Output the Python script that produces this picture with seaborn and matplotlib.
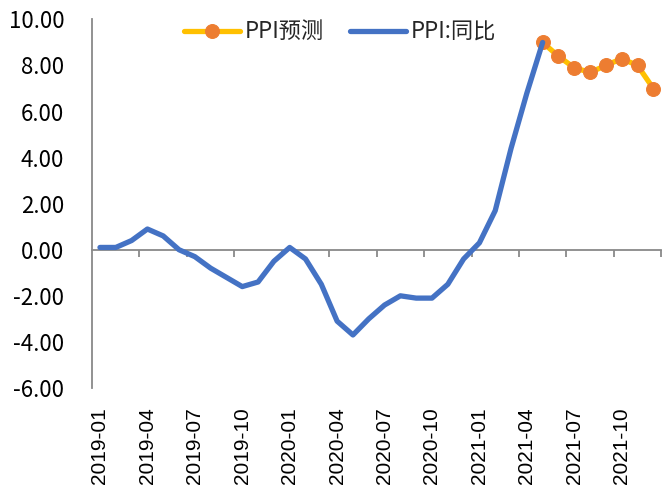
import matplotlib
matplotlib.use("Agg")
import matplotlib.pyplot as plt
import seaborn as sns
import pandas as pd

# monthly categories on the x axis
months = [f"{y}-{m:02d}" for y in (2019, 2020, 2021) for m in range(1, 13)]

# PPI year-on-year, actual (2019-01 .. 2021-05)
ppi_yoy = [0.1, 0.1, 0.4, 0.9, 0.6, 0.0, -0.3, -0.8, -1.2, -1.6, -1.4, -0.5,
           0.1, -0.4, -1.5, -3.1, -3.7, -3.0, -2.4, -2.0, -2.1, -2.1, -1.5, -0.4,
           0.3, 1.7, 4.4, 6.8, 9.0]

# PPI forecast (2021-05 .. 2021-12)
forecast_months = ["2021-05", "2021-06", "2021-07", "2021-08",
                   "2021-09", "2021-10", "2021-11", "2021-12"]
ppi_forecast = [9.0, 8.4, 7.9, 7.7, 8.0, 8.3, 8.0, 7.0]

y_ticks = [-6, -4, -2, 0, 2, 4, 6, 8, 10]

sns.set_theme(style="white")
plt.rcParams['font.family'] = ['Noto Sans CJK SC', 'DejaVu Sans']

gray = "#898989"

actual = pd.DataFrame({"month": months[:len(ppi_yoy)], "value": ppi_yoy})
actual["pos"] = [months.index(m) for m in actual["month"]]
forecast = pd.DataFrame({"month": forecast_months, "value": ppi_forecast})
forecast["pos"] = [months.index(m) for m in forecast_months]

fig = plt.figure(figsize=(6.72, 4.98), dpi=100)
ax = fig.add_axes([0.137, 0.221, 0.847, 0.740])

sns.lineplot(data=forecast, x="pos", y="value", ax=ax, color="#FFC000", lw=3.8,
             marker="o", markersize=10, markerfacecolor="#ED7D31",
             markeredgecolor="#ED7D31", label="PPI预测")
sns.lineplot(data=actual, x="pos", y="value", ax=ax, color="#4472C4", lw=3.8,
             label="PPI:同比")

ax.set_xlim(-0.5, len(months) - 0.5)
ax.set_ylim(-6, 10)
ax.set_yticks(y_ticks)
ax.set_yticklabels([f"{v:.2f}" for v in y_ticks])
ax.set_xticks(range(0, len(months), 3))
ax.set_xticklabels(months[::3], rotation=90, fontfamily="Liberation Sans", fontsize=15)
ax.set_xlabel("")
ax.set_ylabel("")

ax.tick_params(axis="x", length=0, pad=14, colors="black")
ax.tick_params(axis="y", length=5, width=1.3, color=gray, direction="out",
               pad=15, labelsize=16, labelcolor="black")
for s in ["top", "right", "bottom"]:
    ax.spines[s].set_visible(False)
ax.spines["left"].set_color(gray)
ax.spines["left"].set_linewidth(1.3)

# zero line with category boundary ticks
sec = ax.secondary_xaxis(6 / 16)
sec.set_xticks([2.5 + 3 * i for i in range(12)])
sec.tick_params(length=5, width=1.3, color=gray, direction="out", labelbottom=False)
sec.spines["bottom"].set_color(gray)
sec.spines["bottom"].set_linewidth(1.3)

ax.legend(loc="center", bbox_to_anchor=(0.506, 0.936), bbox_transform=fig.transFigure,
          ncol=2, frameon=False, fontsize=16, handlelength=2.5,
          handletextpad=0.2, columnspacing=1.2)

fig.savefig("out.png", dpi=100)
